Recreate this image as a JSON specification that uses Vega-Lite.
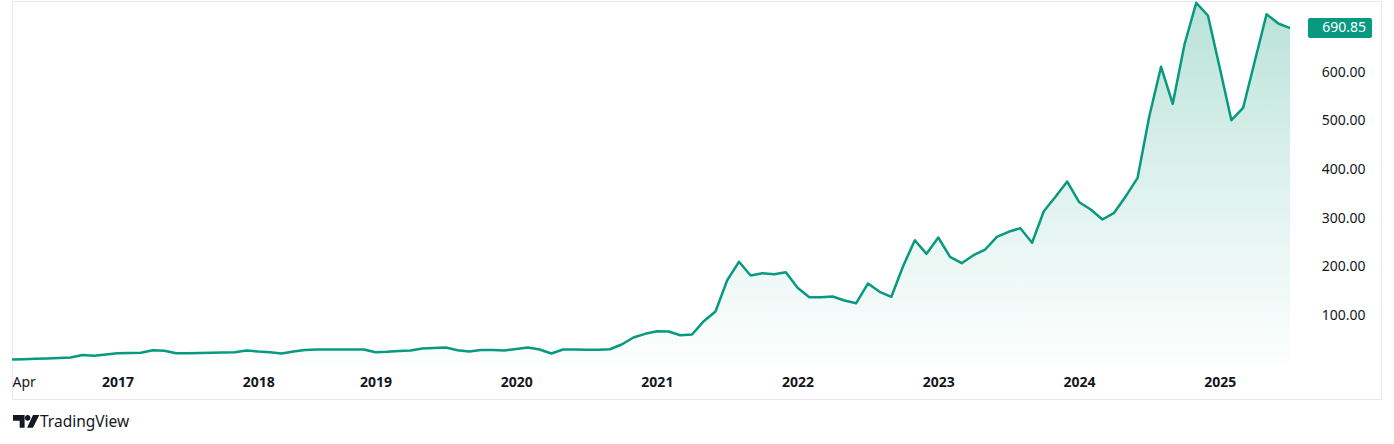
{
  "$schema": "https://vega.github.io/schema/vega-lite/v6.json",
  "width": 1369,
  "height": 398,
  "autosize": {"type": "none"},
  "padding": {"left": 12, "top": 1, "right": 13, "bottom": 45},
  "background": "#ffffff",
  "config": {
    "view": {"stroke": "#e6e9ef", "strokeWidth": 1},
    "font": "Noto Sans",
    "axis": {"labelFont": "Noto Sans", "labelColor": "#131722", "labelFontSize": 14}
  },
  "data": {
    "values": [
      {"i": 0, "v": 8.8}, {"i": 1, "v": 9.5}, {"i": 2, "v": 10.3}, {"i": 3, "v": 11.1}, {"i": 4, "v": 11.9},
      {"i": 5, "v": 13.0}, {"i": 6, "v": 18.1}, {"i": 7, "v": 16.5}, {"i": 8, "v": 19.1}, {"i": 9, "v": 21.8},
      {"i": 10, "v": 22.2}, {"i": 11, "v": 22.6}, {"i": 12, "v": 28.0}, {"i": 13, "v": 26.7}, {"i": 14, "v": 21.8},
      {"i": 15, "v": 21.8}, {"i": 16, "v": 22.2}, {"i": 17, "v": 22.6}, {"i": 18, "v": 23.3}, {"i": 19, "v": 23.9},
      {"i": 20, "v": 27.4}, {"i": 21, "v": 25.3}, {"i": 22, "v": 23.9}, {"i": 23, "v": 21.2}, {"i": 24, "v": 25.3},
      {"i": 25, "v": 28.4}, {"i": 26, "v": 29.4}, {"i": 27, "v": 29.4}, {"i": 28, "v": 29.4}, {"i": 29, "v": 29.4},
      {"i": 30, "v": 29.4}, {"i": 31, "v": 23.9}, {"i": 32, "v": 24.7}, {"i": 33, "v": 26.3}, {"i": 34, "v": 27.4},
      {"i": 35, "v": 31.5}, {"i": 36, "v": 32.5}, {"i": 37, "v": 33.5}, {"i": 38, "v": 28.0}, {"i": 39, "v": 25.3},
      {"i": 40, "v": 28.4}, {"i": 41, "v": 28.4}, {"i": 42, "v": 27.4}, {"i": 43, "v": 30.5}, {"i": 44, "v": 33.5},
      {"i": 45, "v": 29.4}, {"i": 46, "v": 21.2}, {"i": 47, "v": 29.4}, {"i": 48, "v": 29.4}, {"i": 49, "v": 28.8},
      {"i": 50, "v": 28.8}, {"i": 51, "v": 30.0}, {"i": 52, "v": 39.7}, {"i": 53, "v": 54.1}, {"i": 54, "v": 61.7},
      {"i": 55, "v": 67.1}, {"i": 56, "v": 66.5}, {"i": 57, "v": 58.8}, {"i": 58, "v": 60.3}, {"i": 59, "v": 87.7},
      {"i": 60, "v": 107.6}, {"i": 61, "v": 172.0}, {"i": 62, "v": 209.9}, {"i": 63, "v": 181.7}, {"i": 64, "v": 186.4},
      {"i": 65, "v": 184.4}, {"i": 66, "v": 188.5}, {"i": 67, "v": 156.4}, {"i": 68, "v": 137.0}, {"i": 69, "v": 137.0},
      {"i": 70, "v": 138.5}, {"i": 71, "v": 130.2}, {"i": 72, "v": 124.7}, {"i": 73, "v": 165.2}, {"i": 74, "v": 148.1},
      {"i": 75, "v": 137.9}, {"i": 76, "v": 200.8}, {"i": 77, "v": 254.3}, {"i": 78, "v": 226.3}, {"i": 79, "v": 259.9},
      {"i": 80, "v": 220.2}, {"i": 81, "v": 207.0}, {"i": 82, "v": 223.5}, {"i": 83, "v": 235.2}, {"i": 84, "v": 261.3},
      {"i": 85, "v": 271.6}, {"i": 86, "v": 279.0}, {"i": 87, "v": 249.0}, {"i": 88, "v": 314.0}, {"i": 89, "v": 343.6},
      {"i": 90, "v": 375.0}, {"i": 91, "v": 333.0}, {"i": 92, "v": 317.5}, {"i": 93, "v": 296.9}, {"i": 94, "v": 310.7},
      {"i": 95, "v": 344.9}, {"i": 96, "v": 382.7}, {"i": 97, "v": 509.5}, {"i": 98, "v": 611.1}, {"i": 99, "v": 535.0},
      {"i": 100, "v": 657.0}, {"i": 101, "v": 742.8}, {"i": 102, "v": 716.7}, {"i": 103, "v": 609.7}, {"i": 104, "v": 501.2},
      {"i": 105, "v": 526.7}, {"i": 106, "v": 623.0}, {"i": 107, "v": 719.3}, {"i": 108, "v": 700.2}, {"i": 109, "v": 690.85}
    ]
  },
  "layer": [
    {
      "mark": {
        "type": "area",
        "color": {
          "gradient": "linear",
          "x1": 0, "y1": 0, "x2": 0, "y2": 1,
          "stops": [
            {"offset": 0, "color": "#b9e2d8"},
            {"offset": 0.5, "color": "#def2ed"},
            {"offset": 1, "color": "#fdfefe"}
          ]
        }
      },
      "encoding": {
        "x": {
          "field": "i", "type": "quantitative",
          "scale": {"domain": [0, 116.76], "nice": false, "zero": false},
          "axis": {
            "orient": "bottom",
            "title": null,
            "grid": false, "domain": false, "ticks": false, "tickSize": 0,
            "values": [0, 9, 21, 31, 43, 55, 67, 79, 91, 103],
            "labelExpr": "datum.value == 0 ? 'Apr' : '' + (2017 + indexof([9, 21, 31, 43, 55, 67, 79, 91, 103], datum.value))",
            "labelFontWeight": {"condition": {"test": "datum.value == 0", "value": "normal"}, "value": "bold"},
            "labelAlign": {"condition": {"test": "datum.value == 0", "value": "left"}, "value": "center"},
            "labelBaseline": "middle",
            "labelPadding": -17,
            "labelOverlap": false, "labelBound": false, "labelFlush": false
          }
        },
        "y": {
          "field": "v", "type": "quantitative",
          "scale": {"domain": [-72.4, 746.5], "nice": false, "zero": false},
          "axis": {
            "orient": "right",
            "title": null,
            "grid": false, "domain": false, "ticks": false, "tickSize": 0,
            "values": [100, 200, 300, 400, 500, 600],
            "format": ".2f",
            "labelAlign": "right",
            "labelBaseline": "middle",
            "labelPadding": -16,
            "labelOverlap": false, "labelBound": false, "labelFlush": false
          }
        },
        "y2": {"datum": 0}
      }
    },
    {
      "mark": {"type": "line", "color": "#089981", "strokeWidth": 2.5, "strokeJoin": "round"},
      "encoding": {
        "x": {"field": "i", "type": "quantitative"},
        "y": {"field": "v", "type": "quantitative"}
      }
    },
    {
      "data": {"values": [{"label": "690.85", "v": 690.85}]},
      "layer": [
        {
          "mark": {"type": "rect", "color": "#089981", "cornerRadius": 2},
          "encoding": {
            "x": {"datum": 110.53, "type": "quantitative"},
            "x2": {"datum": 115.99},
            "y": {"datum": 711.5, "type": "quantitative"},
            "y2": {"datum": 670.4}
          }
        },
        {
          "mark": {"type": "text", "color": "#ffffff", "fontSize": 14, "font": "Noto Sans", "align": "right", "baseline": "middle"},
          "encoding": {
            "x": {"datum": 115.48, "type": "quantitative"},
            "y": {"field": "v", "type": "quantitative"},
            "text": {"field": "label"}
          }
        }
      ]
    },
    {
      "data": {"values": [{"brand": "TradingView"}]},
      "layer": [
        {
          "mark": {
            "type": "point",
            "filled": true,
            "color": "#131722",
            "opacity": 1,
            "size": 784,
            "shape": "M-0.93,-0.45L-0.1,-0.45L-0.1,0.45L-0.45,0.45L-0.45,-0.05L-0.93,-0.05Z M-0.08,-0.25a0.2,0.2 0 1,0 0.4,0a0.2,0.2 0 1,0 -0.4,0Z M0.5,-0.45L0.95,-0.45L0.5,0.45L0.08,0.45Z"
          },
          "encoding": {
            "x": {"datum": 1.194, "type": "quantitative"},
            "y": {"datum": -118.5, "type": "quantitative"}
          }
        },
        {
          "mark": {"type": "text", "color": "#131722", "fontSize": 15.5, "font": "Noto Sans", "align": "left", "baseline": "middle"},
          "encoding": {
            "x": {"datum": 2.39, "type": "quantitative"},
            "y": {"datum": -119.8, "type": "quantitative"},
            "text": {"field": "brand"}
          }
        }
      ]
    }
  ]
}
